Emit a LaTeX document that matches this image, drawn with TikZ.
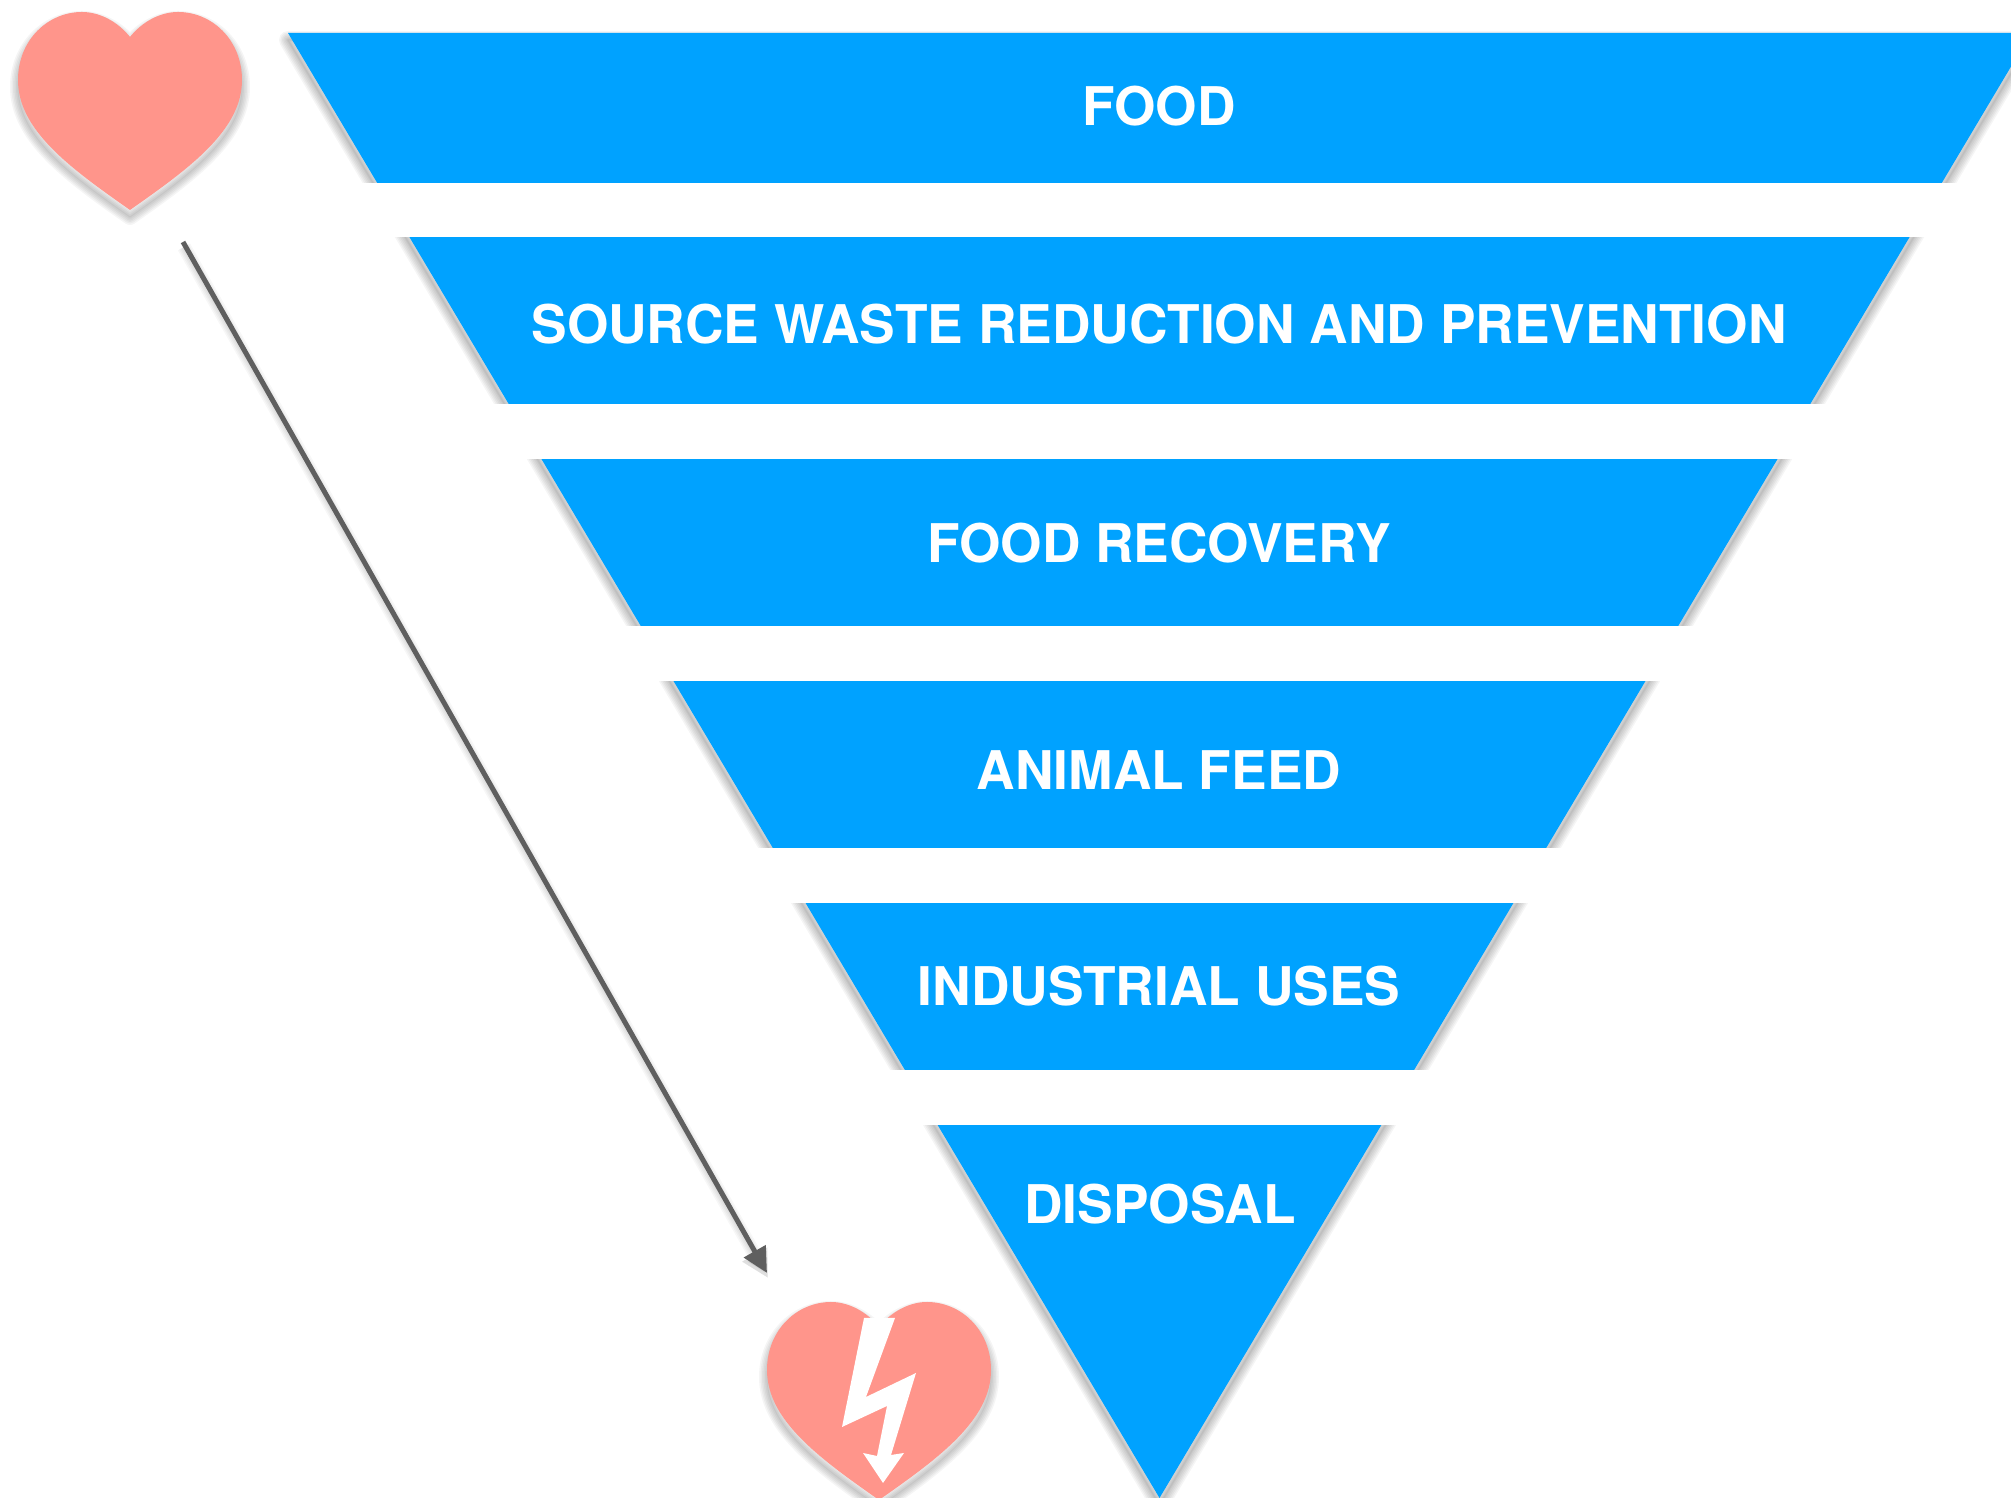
\documentclass[tikz,border=0pt]{standalone}
\usepackage{fontspec}
\setmainfont{TeX Gyre Heros}
\usetikzlibrary{arrows.meta}

\definecolor{bandblue}{HTML}{00A2FF}
\definecolor{heartred}{HTML}{FF958B}
\definecolor{arrowgray}{HTML}{5F5F5F}

\newcommand{\funnelpath}{(288,1465) -- (2031,1465) -- (1159.5,0) -- cycle}
\newcommand{\heartpath}{(130,1288) .. controls (70,1330) and (18,1368) .. (18,1418)
	.. controls (18,1458) and (48,1486) .. (82,1486)
	.. controls (100,1486) and (118,1476) .. (130,1461)
	.. controls (142,1476) and (160,1486) .. (178,1486)
	.. controls (212,1486) and (242,1458) .. (242,1418)
	.. controls (242,1368) and (190,1330) .. (130,1288) -- cycle}

\begin{document}
\begin{tikzpicture}[x=1pt,y=1pt,node distance=218pt]

	% Define styles
	\tikzstyle{bandtext} = [
	text=white, font=\fontsize{53.3}{64}\selectfont\bfseries,
	text height=38pt, text depth=0pt, inner sep=0pt]
	\tikzstyle{strip} = [fill=white, draw=none]
	\tikzstyle{shade} = [black, opacity=0.04, line join=round, shift={(0,-7)}]
	\tikzstyle{arrow} = [arrowgray, line width=5pt, -{Triangle[length=25pt,width=24pt]}]

	\clip (0,0) rectangle (2011,1498);
	\fill[white] (0,0) rectangle (2011,1498);

	% Funnel
	\foreach \w in {18,15,12,9,6,3,1} {
		\draw[shade, line width=\w pt] \funnelpath;
	}
	\fill[bandblue] \funnelpath;

	% Strips
	\fill[strip] (360,1315) rectangle (1959,1261);
	\fill[strip] (492,1094) rectangle (1827,1039);
	\fill[strip] (624,872) rectangle (1695,817);
	\fill[strip] (756,650) rectangle (1563,595);
	\fill[strip] (887,428) rectangle (1432,373);

	% Nodes
	\node (food) [bandtext] at (1159,1391) {FOOD};
	\node (reduction) [bandtext, below of=food] {SOURCE WASTE REDUCTION AND PREVENTION};
	\node (recovery) [bandtext, below of=reduction, yshift=-1pt] {FOOD RECOVERY};
	\node (feed) [bandtext, below of=recovery, yshift=-9pt] {ANIMAL FEED};
	\node (industrial) [bandtext, below of=feed, yshift=2pt] {INDUSTRIAL USES};
	\node (disposal) [bandtext, below of=industrial, xshift=1pt] {DISPOSAL};

	% Hearts
	\foreach \dx/\dy in {0/0,749/-1290} {
		\begin{scope}[shift={(\dx,\dy)}]
			\foreach \w in {16,13,10,7,4,1} {
				\draw[shade, line width=\w pt] \heartpath;
			}
			\fill[heartred] \heartpath;
		\end{scope}
	}

	% Bolt
	\fill[white] (864,180) -- (895,180) -- (866,101) -- (916,125) -- (891,43)
	-- (904,45) -- (883,15) -- (863,45) -- (877,42) -- (887,92) -- (842,71) -- cycle;

	% Arrows
	\coordinate (arrowstart) at (183,1256);
	\coordinate (arrowend) at (767,225);
	\foreach \w in {14,11,8,5} {
		\draw[black, opacity=0.03, line width=\w pt, -{Triangle[length=27pt,width=27pt]}]
		([shift={(1,-5)}]arrowstart) -- ([shift={(1,-5)}]arrowend);
	}
	\draw [arrow] (arrowstart) -- (arrowend);
\end{tikzpicture}
\end{document}
